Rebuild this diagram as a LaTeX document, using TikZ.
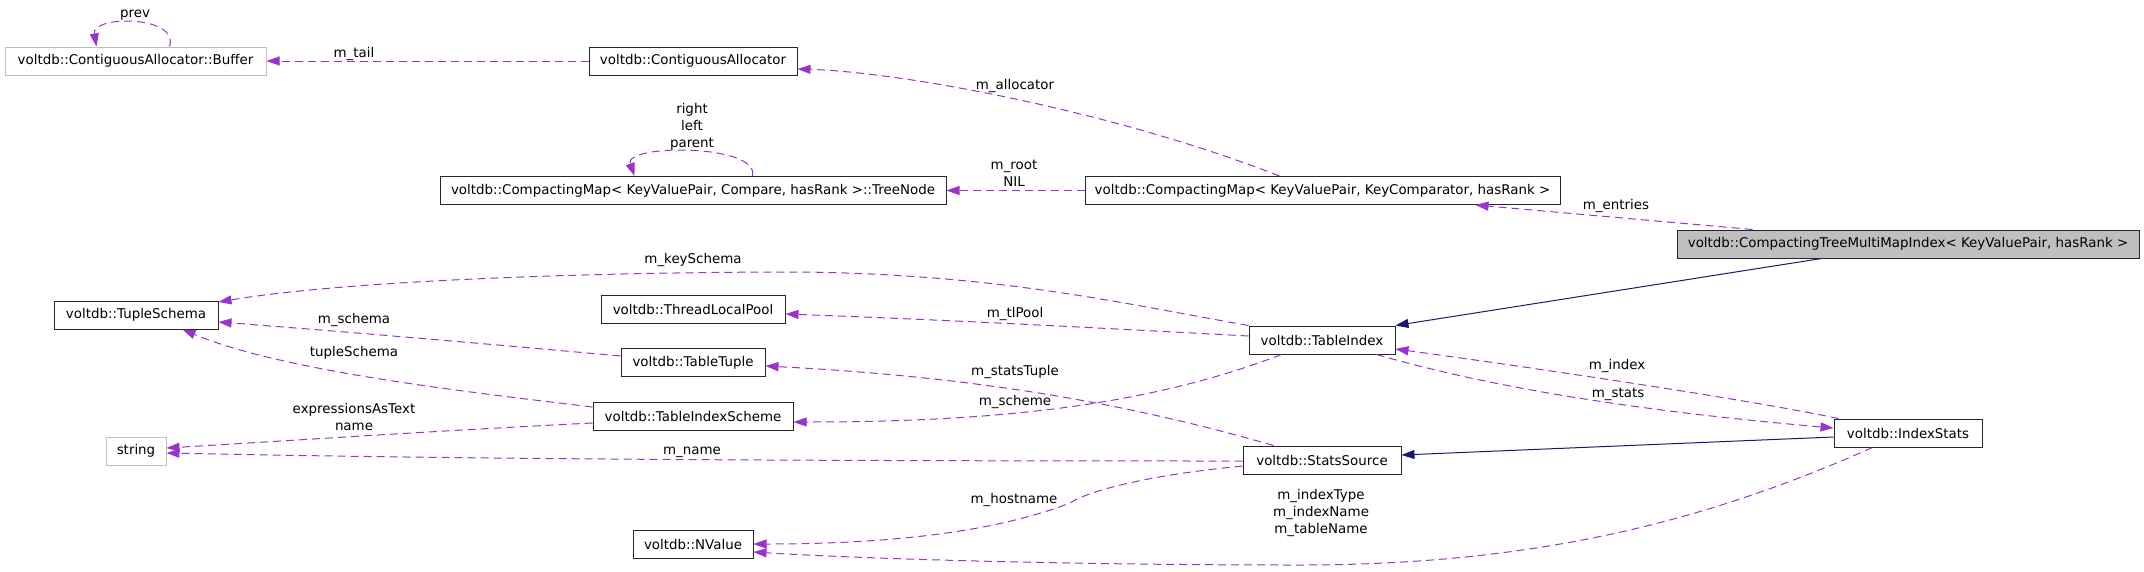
\documentclass[tikz,border=0pt]{standalone}
\usepackage{fontspec}
\setmainfont{DejaVu Sans}
\usetikzlibrary{arrows.meta}
\definecolor{edgepurple}{HTML}{9A32CD}
\definecolor{navyblue}{HTML}{191970}
\definecolor{greyborder}{HTML}{BFBFBF}
\tikzset{
 cls/.style={draw=black!85, line width=1pt, fill=white, inner sep=0pt, minimum height=28pt, font=\fontsize{13.4}{15}\selectfont, text=black},
 ext/.style={cls, draw=greyborder},
 cur/.style={cls, fill=greyborder},
 rel/.style={draw=edgepurple, line width=1pt, dash pattern=on 8pt off 5pt, -{Triangle[length=13pt,width=9pt]}},
 inh/.style={draw=navyblue, line width=1pt, -{Triangle[length=13pt,width=9pt]}},
 lbl/.style={font=\fontsize{13.4}{17}\selectfont, inner sep=0pt, align=center, text=black, yshift=-2pt},
}
\begin{document}
\begin{tikzpicture}[x=1pt,y=-1pt]
\useasboundingbox (0,0) rectangle (2144,571);
% nodes
\node[ext, minimum width=261pt] (buf) at (135.5,61) {voltdb::ContiguousAllocator::Buffer};
\node[cls, minimum width=208pt] (ca) at (693,61) {voltdb::ContiguousAllocator};
\node[cls, minimum width=506pt] (tn) at (693,190.5) {voltdb::CompactingMap< KeyValuePair, Compare, hasRank >::TreeNode};
\node[cls, minimum width=475pt] (cm) at (1322.5,190.5) {voltdb::CompactingMap< KeyValuePair, KeyComparator, hasRank >};
\node[cur, minimum width=462pt] (ct) at (1908,244) {voltdb::CompactingTreeMultiMapIndex< KeyValuePair, hasRank >};
\node[cls, minimum width=164pt] (ts) at (136,315) {voltdb::TupleSchema};
\node[cls, minimum width=184pt] (tlp) at (693,309) {voltdb::ThreadLocalPool};
\node[cls, minimum width=144pt] (tt) at (693,362.5) {voltdb::TableTuple};
\node[cls, minimum width=200pt] (tis) at (693,416) {voltdb::TableIndexScheme};
\node[ext, minimum width=60pt] (str) at (136,451) {string};
\node[cls, minimum width=120pt] (nv) at (693,544) {voltdb::NValue};
\node[cls, minimum width=146pt] (ti) at (1322,340) {voltdb::TableIndex};
\node[cls, minimum width=158pt] (ss) at (1322,460) {voltdb::StatsSource};
\node[cls, minimum width=148pt] (is) at (1908,433) {voltdb::IndexStats};
% edges
\draw[rel] ([xshift=165pt]buf.north west) .. controls (180,15) and (91,15) .. ([xshift=92pt]buf.north west);
\node[lbl] (lprev) at (135,13) {prev};
\draw[rel] (ca.west) -- (buf.east);
\node[lbl] (ltail) at (354,52) {m\_tail};
\draw[rel] ([xshift=313pt]tn.north west) .. controls (760,143.7) and (623,143.7) .. ([xshift=195pt]tn.north west);
\node[lbl] (ltn) at (692,124.5) {right\\left\\parent};
\draw[rel] ([xshift=195pt]cm.north west) .. controls (1110,110) and (900,72) .. ([yshift=-8pt]ca.east);
\node[lbl] (lalloc) at (1015,84) {m\_allocator};
\draw[rel] (cm.west) -- (tn.east);
\node[lbl] (lroot) at (1014,171.5) {m\_root\\NIL};
\draw[rel] ([xshift=76pt]ct.north west) -- ([xshift=391pt]cm.south west);
\node[lbl] (lentries) at (1616,204) {m\_entries};
\draw[inh] ([xshift=145pt]ct.south west) -- (ti.north east);
\draw[rel] (ti.north west) .. controls (1130,305) and (1000,274) .. (800,272) .. controls (600,272) and (350,280) .. ([yshift=13pt]ts.east);
\node[lbl] (lkey) at (693,258) {m\_keySchema};
\draw[rel] ([yshift=4pt]ti.west) .. controls (1100,328) and (950,320) .. ([yshift=-5pt]tlp.east);
\node[lbl] (ltl) at (1015,312) {m\_tlPool};
\draw[rel] ([yshift=6.5pt]tt.west) .. controls (500,345) and (350,332) .. ([yshift=-7pt]ts.east);
\node[lbl] (lschema) at (354,318) {m\_schema};
\draw[rel] ([yshift=9pt]tis.west) .. controls (450,390) and (280,370) .. ([xshift=129pt]ts.south west);
\node[lbl] (ltuple) at (354,351) {tupleSchema};
\draw[rel] ([yshift=-7pt]tis.west) .. controls (450,430) and (300,440) .. ([yshift=3pt]str.east);
\node[lbl] (lexpr) at (354,414.5) {expressionsAsText\\name};
\draw[rel] ([yshift=-1pt]ss.west) .. controls (900,461) and (500,460) .. ([yshift=-2pt]str.east);
\node[lbl] (lname) at (692,450) {m\_name};
\draw[rel] ([xshift=31pt]ss.north west) .. controls (1150,410) and (1000,378) .. ([yshift=-3.5pt]tt.east);
\node[lbl] (lst) at (1015,370) {m\_statsTuple};
\draw[rel] ([xshift=33pt]ti.south west) .. controls (1150,405) and (1000,422) .. ([yshift=-6pt]tis.east);
\node[lbl] (lsch) at (1015,400) {m\_scheme};
\draw[rel] ([xshift=5pt]is.north west) .. controls (1750,400) and (1550,370) .. ([yshift=-9pt]ti.east);
\node[lbl] (lidx) at (1617,364) {m\_index};
\draw[rel] ([xshift=128pt]ti.south west) .. controls (1500,390) and (1650,412) .. ([yshift=5pt]is.west);
\node[lbl] (lstats) at (1618,392) {m\_stats};
\draw[inh] ([yshift=-4pt]is.west) -- ([yshift=5pt]ss.east);
\draw[rel] ([yshift=-6pt]ss.west) .. controls (1150,475) and (1090,490) .. (1070,503) .. controls (1000,530) and (900,544) .. (nv.east);
\node[lbl] (lhost) at (1014,498) {m\_hostname};
\draw[rel] ([xshift=39pt]is.south west) .. controls (1720,515) and (1550,565) .. (1300,565) .. controls (1050,565) and (850,558) .. ([yshift=-8pt]nv.east);
\node[lbl] (lit) at (1321,511) {m\_indexType\\m\_indexName\\m\_tableName};
\end{tikzpicture}
\end{document}
